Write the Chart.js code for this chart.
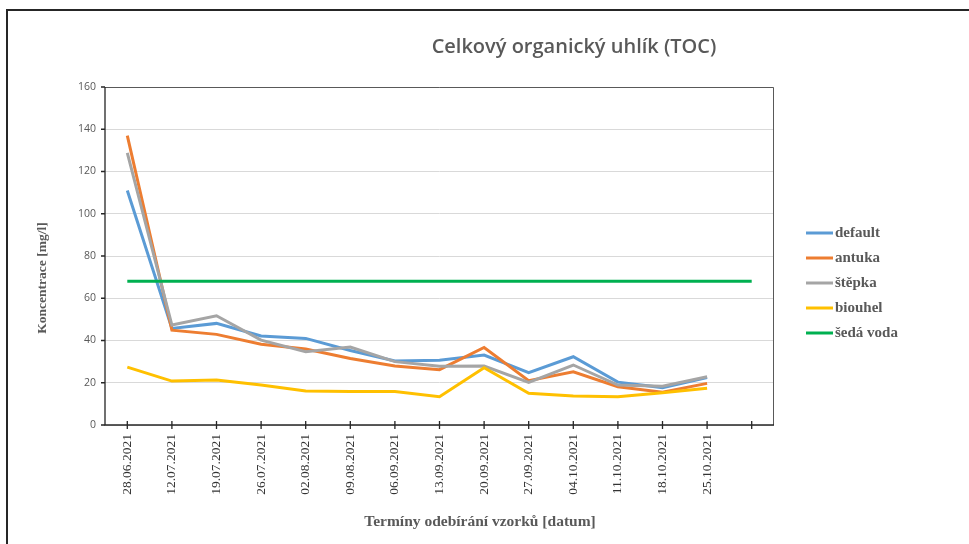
<!DOCTYPE html>
<html>
<head>
<meta charset="utf-8">
<script src="https://cdn.jsdelivr.net/npm/chart.js@4.4.0/dist/chart.umd.min.js"></script>
<style>
  html, body { margin: 0; padding: 0; background: #fff; }
  #wrap { width: 969px; height: 544px; }
</style>
</head>
<body>
<div id="wrap"><canvas id="toc" width="969" height="544"></canvas></div>
<script>
// --- Data ---
const dates = ['28.06.2021', '12.07.2021', '19.07.2021', '26.07.2021', '02.08.2021', '09.08.2021',
  '06.09.2021', '13.09.2021', '20.09.2021', '27.09.2021', '04.10.2021', '11.10.2021',
  '18.10.2021', '25.10.2021', ''];
const defaultVals = [111, 45.7, 48.1, 42.1, 41, 35.3, 30.3, 30.6, 33.1, 24.8, 32.3, 20.3, 17.7, 22.5, null];
const antukaVals  = [137, 44.9, 42.9, 38.2, 36, 31.5, 27.9, 26.2, 36.7, 21, 25.2, 18.1, 15.5, 19.7, null];
const stepkaVals  = [128.8, 47.3, 51.7, 40.2, 34.7, 36.9, 30, 27.8, 27.9, 20.2, 28.4, 18.9, 18.4, 22.8, null];
const biouhelVals = [27.4, 20.8, 21.3, 18.9, 16.1, 15.8, 15.8, 13.4, 27.1, 15, 13.7, 13.4, 15.3, 17.4, null];
const sedaVodaVals = [68, 68, 68, 68, 68, 68, 68, 68, 68, 68, 68, 68, 68, 68, 68];
const seriesNames = ['default', 'antuka', 'štěpka', 'biouhel', 'šedá voda'];
const yTicks = [0, 20, 40, 60, 80, 100, 120, 140, 160];

const chartTitle = 'Celkový organický uhlík (TOC)';
const yTitle = 'Koncentrace [mg/l]';
const xTitle = 'Termíny odebírání vzorků [datum]';

const colors = ['#5B9BD5', '#ED7D31', '#A5A5A5', '#FFC000', '#00B050'];
const TEXT_GRAY = '#595959';

function series(i, values) {
  return {
    label: seriesNames[i],
    data: values,
    borderColor: colors[i],
    backgroundColor: colors[i],
    borderWidth: 3,
    pointRadius: 0,
    tension: 0,
    fill: false,
    order: 5 - i // later series on top, like Excel
  };
}

// --- Frame, axes, titles and legend drawn around the plot ---
const decor = {
  id: 'decor',
  beforeDraw(chart) {
    const c = chart.ctx;
    c.save();
    c.fillStyle = '#fff';
    c.fillRect(0, 0, chart.width, chart.height);
    c.strokeStyle = '#262626';
    c.lineWidth = 2;
    c.beginPath();
    c.moveTo(7, chart.height);
    c.lineTo(7, 10);
    c.lineTo(chart.width, 10);
    c.stroke();
    c.restore();
  },
  beforeDatasetsDraw(chart) {
    const c = chart.ctx;
    const a = chart.chartArea;
    const xs = chart.scales.x, ys = chart.scales.y;
    c.save();
    // plot area border (top / right)
    c.strokeStyle = '#595959';
    c.lineWidth = 1;
    c.beginPath();
    c.moveTo(a.left, a.top + 0.5);
    c.lineTo(a.right - 0.5, a.top + 0.5);
    c.lineTo(a.right - 0.5, a.bottom);
    c.stroke();
    // axes
    c.strokeStyle = '#262626';
    c.lineWidth = 1.3;
    c.beginPath();
    c.moveTo(a.left, a.top);
    c.lineTo(a.left, a.bottom);
    c.lineTo(a.right, a.bottom);
    c.stroke();
    // tick marks
    c.beginPath();
    yTicks.forEach(function (v) {
      const y = ys.getPixelForValue(v);
      c.moveTo(a.left - 4, y);
      c.lineTo(a.left, y);
    });
    dates.forEach(function (d, i) {
      const x = xs.getPixelForValue(i);
      c.moveTo(x, a.bottom - 4);
      c.lineTo(x, a.bottom + 4);
    });
    c.stroke();
    c.restore();
  },
  afterDraw(chart) {
    const c = chart.ctx;
    c.save();
    c.fillStyle = TEXT_GRAY;
    c.textAlign = 'center';
    c.textBaseline = 'middle';

    c.font = "600 20px 'Open Sans'";
    c.fillText(chartTitle, 574, 47);

    c.font = "bold 15.5px 'Liberation Serif'";
    c.fillText(xTitle, 480, 522);

    c.save();
    c.translate(43, 278);
    c.rotate(-Math.PI / 2);
    c.font = "bold 13.5px 'Liberation Serif'";
    c.fillText(yTitle, 0, 0);
    c.restore();

    // legend
    c.textAlign = 'left';
    c.font = "bold 15px 'Liberation Serif'";
    seriesNames.forEach(function (name, i) {
      const y = 233 + i * 25;
      c.strokeStyle = colors[i];
      c.lineWidth = 3;
      c.beginPath();
      c.moveTo(806, y);
      c.lineTo(833, y);
      c.stroke();
      c.fillStyle = TEXT_GRAY;
      c.fillText(name, 835, y);
    });
    c.restore();
  }
};

new Chart(document.getElementById('toc'), {
  type: 'line',
  data: {
    labels: dates,
    datasets: [
      series(0, defaultVals),
      series(1, antukaVals),
      series(2, stepkaVals),
      series(3, biouhelVals),
      series(4, sedaVodaVals)
    ]
  },
  options: {
    responsive: false,
    devicePixelRatio: 1,
    animation: false,
    layout: { padding: { left: 0, top: 87, right: 195, bottom: 0 } },
    plugins: {
      legend: { display: false },
      title: { display: false },
      tooltip: { enabled: false }
    },
    scales: {
      x: {
        offset: true,
        grid: { display: false, drawTicks: false },
        border: { display: false },
        ticks: {
          autoSkip: false,
          minRotation: 90,
          maxRotation: 90,
          padding: 9,
          color: '#333',
          font: { family: "'Liberation Serif'", size: 13.5 }
        },
        afterFit: function (s) { s.height = 119; }
      },
      y: {
        min: 0,
        max: 160,
        grid: { color: '#d9d9d9', drawTicks: false },
        border: { display: false },
        ticks: {
          padding: 9,
          color: TEXT_GRAY,
          font: { family: "'Open Sans'", size: 10.5 }
        },
        afterBuildTicks: function (s) { s.ticks = yTicks.map(function (v) { return { value: v }; }); },
        afterFit: function (s) { s.width = 105; }
      }
    }
  },
  plugins: [decor]
});
</script>
</body>
</html>
